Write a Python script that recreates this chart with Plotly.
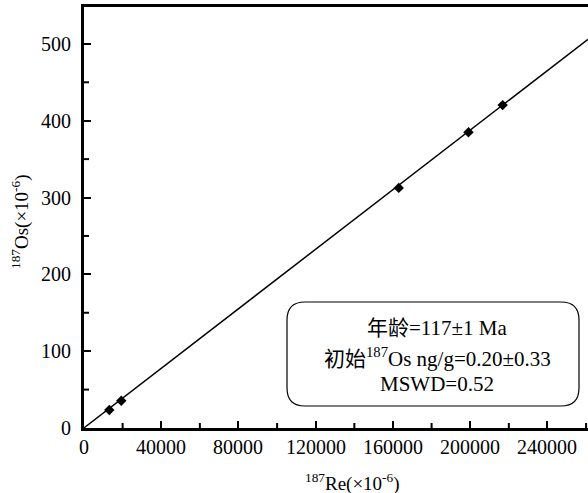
import plotly.graph_objects as go

# Data
re187 = [13100, 19300, 163000, 199100, 216800]
os187 = [23.4, 35.5, 312.5, 385.0, 420.3]
isochron_x = [0, 261000]
isochron_y = [0.2, 506.0]
x_ticks = [0, 40000, 80000, 120000, 160000, 200000, 240000]
y_ticks = [0, 100, 200, 300, 400, 500]
x_minor = [20000, 60000, 100000, 140000, 180000, 220000, 260000]
y_minor = [50, 150, 250, 350, 450]
x_title = "<sup>187</sup>Re(×10<sup>-6</sup>)"
y_title = "<sup>187</sup>Os(×10<sup>-6</sup>)"
info_lines = [
    "年龄=117±1 Ma",
    "初始<sup>187</sup>Os ng/g=0.20±0.33",
    "MSWD=0.52",
]

W, H = 588, 493
L, R, T, B = 84, 0, 7, 65
PW, PH = W - L - R, H - T - B

SERIF = "Liberation Serif"
FONT = "Liberation Serif, Noto Sans CJK SC, serif"

fig = go.Figure()
fig.add_trace(go.Scatter(x=isochron_x, y=isochron_y, mode="lines",
                         line=dict(color="black", width=1.5), showlegend=False,
                         hoverinfo="skip"))
fig.add_trace(go.Scatter(x=re187, y=os187, mode="markers",
                         marker=dict(symbol="diamond", size=8, color="black"),
                         showlegend=False))

def px2paper(px, py):
    return (px - L) / PW, (H - B - py) / PH

# rounded box (pixel coords of reference)
bx0, bx1, by0, by1, rad = 287, 579, 302, 406, 18
def P(px, py):
    x, y = px2paper(px, py)
    return f"{x:.5f},{y:.5f}"
path = (f"M {P(bx0+rad, by0)} L {P(bx1-rad, by0)} Q {P(bx1, by0)} {P(bx1, by0+rad)} "
        f"L {P(bx1, by1-rad)} Q {P(bx1, by1)} {P(bx1-rad, by1)} "
        f"L {P(bx0+rad, by1)} Q {P(bx0, by1)} {P(bx0, by1-rad)} "
        f"L {P(bx0, by0+rad)} Q {P(bx0, by0)} {P(bx0+rad, by0)} Z")
fig.add_shape(type="path", path=path, xref="paper", yref="paper",
              line=dict(color="black", width=1.2), fillcolor="white", layer="above")

line_centers = [328, 357, 384]
for txt, cy in zip(info_lines, line_centers):
    xp, yp = px2paper(437, cy)
    fig.add_annotation(text=txt, x=xp, y=yp, xref="paper", yref="paper",
                       showarrow=False, xanchor="center", yanchor="middle",
                       font=dict(family=FONT, size=21, color="black"))

# minor ticks
for xv in x_minor:
    fig.add_shape(type="line", xref="x", yref="paper", x0=xv, x1=xv, y0=0, y1=5 / PH,
                  line=dict(color="black", width=2))
for yv in y_minor:
    fig.add_shape(type="line", xref="paper", yref="y", x0=0, x1=5 / PW, y0=yv, y1=yv,
                  line=dict(color="black", width=2))

# tick labels as text placed through the axes' scales
for xv in x_ticks:
    fig.add_annotation(text=str(xv), x=xv, y=0, xref="x", yref="paper",
                       showarrow=False, xanchor="center", yanchor="middle", yshift=-19,
                       font=dict(family=SERIF, size=20, color="black"))
for yv in y_ticks:
    fig.add_annotation(text=str(yv), x=0, y=yv, xref="paper", yref="y",
                       showarrow=False, xanchor="right", yanchor="middle", xshift=-11,
                       font=dict(family=SERIF, size=20, color="black"))

# axis titles
fig.add_annotation(text=x_title, x=(352 - L) / PW, y=0, xref="paper", yref="paper",
                   showarrow=False, xanchor="center", yanchor="middle", yshift=-54,
                   font=dict(family=SERIF, size=19, color="black"))
fig.add_annotation(text=y_title, x=(21 - L) / PW, y=(H - B - 222) / PH,
                   xref="paper", yref="paper", textangle=-90,
                   showarrow=False, xanchor="center", yanchor="middle",
                   font=dict(family=SERIF, size=19, color="black"))

fig.update_xaxes(range=[0, 261000], tickmode="array", tickvals=x_ticks,
                 showticklabels=False,
                 ticks="inside", ticklen=7, tickwidth=2, tickcolor="black",
                 showline=True, linewidth=3, linecolor="black", mirror=True,
                 showgrid=False, zeroline=False)
fig.update_yaxes(range=[0, 548], tickmode="array", tickvals=y_ticks,
                 showticklabels=False,
                 ticks="inside", ticklen=7, tickwidth=2, tickcolor="black",
                 showline=True, linewidth=3, linecolor="black", mirror=False,
                 showgrid=False, zeroline=False)

fig.update_layout(width=W, height=H, margin=dict(l=L, r=R, t=T, b=B),
                  font=dict(family=SERIF, size=20, color="black"),
                  plot_bgcolor="white", paper_bgcolor="white")

fig.write_html("out.html")
